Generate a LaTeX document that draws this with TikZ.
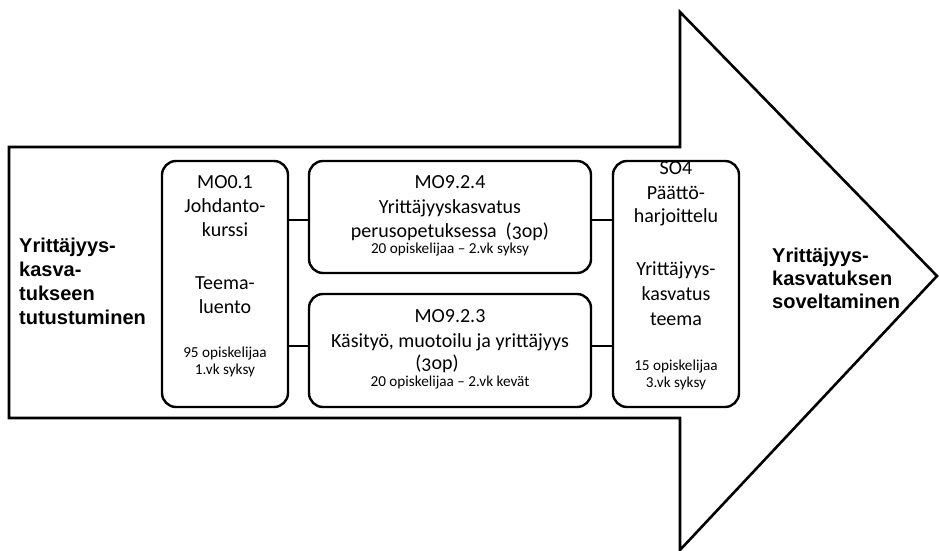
\documentclass[tikz,border=0pt]{standalone}
\usepackage{fontspec}
\setmainfont{Carlito}
\newfontfamily\headfont{Liberation Sans}
\begin{document}
\begin{tikzpicture}[x=1pt,y=-1pt,
  bigarrow/.style={draw=black,line width=2.6pt,line join=miter},
  course/.style={draw=black,line width=2.4pt,rounded corners=14pt,fill=none,inner sep=0pt},
  link/.style={draw=black,line width=2pt},
  main/.style={font=\fontsize{20}{24}\selectfont,anchor=base,inner sep=0pt},
  small/.style={font=\fontsize{15.2}{17}\selectfont,anchor=base,inner sep=0pt},
  head/.style={font=\headfont\bfseries\fontsize{20}{24}\selectfont,anchor=base west,inner sep=0pt}]
\useasboundingbox (0,0) rectangle (940,551);
\fill[white] (0,0) rectangle (940,551);

% the large process arrow
\draw[bigarrow] (9,147) -- (680,147) -- (680,12) -- (937,276) -- (680,550) -- (680,418) -- (9,418) -- cycle;

% text of the course boxes
\node[main] (a1) at (225,188) {MO0.1};
\node[main] (a2) at (225,212) {Johdanto-};
\node[main] (a3) at (225,236) {kurssi};
\node[main] (a4) at (225,289) {Teema-};
\node[main] (a5) at (225,313) {luento};
\node[small] (a6) at (225,357) {95 opiskelijaa};
\node[small] (a7) at (225,374) {1.vk syksy};

\node[main] (b1) at (450,188) {MO9.2.4};
\node[main] (b2) at (450,213) {Yrittäjyyskasvatus};
\node[main] (b3) at (450,237) {perusopetuksessa\ \ (\addfontfeature{Numbers=OldStyle}3op)};
\node[small] (b4) at (450,253) {20 opiskelijaa – 2.vk syksy};

\node[main] (c1) at (450,322) {MO9.2.3};
\node[main] (c2) at (450,347) {Käsityö, muotoilu ja yrittäjyys};
\node[main] (c3) at (437,369) {(\addfontfeature{Numbers=OldStyle}3op)};
\node[small] (c4) at (450,386) {20 opiskelijaa – 2.vk kevät};

\node[main] (d1) at (676,174) {SO4};
\node[main] (d2) at (676,199) {Päättö-};
\node[main] (d3) at (676,222) {harjoittelu};
\node[main] (d4) at (676,275) {Yrittäjyys-};
\node[main] (d5) at (676,300) {kasvatus};
\node[main] (d6) at (676,325) {teema};
\node[small] (d7) at (676,370) {15 opiskelijaa};
\node[small] (d8) at (676,387) {3.vk syksy};

% course boxes
\node[course,minimum width=126pt,minimum height=246pt] (m01) at (225,284) {};
\node[course,minimum width=282pt,minimum height=112pt] (m924) at (450,217) {};
\node[course,minimum width=282pt,minimum height=113pt] (m923) at (450,350.5) {};
\node[course,minimum width=126pt,minimum height=246pt] (so4) at (676,284) {};

% connectors between the boxes
\draw[link] (m01.east |- 0,220) -- (m924.west |- 0,220);
\draw[link] (m01.east |- 0,346) -- (m923.west |- 0,346);
\draw[link] (m924.east |- 0,220) -- (so4.west |- 0,220);
\draw[link] (m923.east |- 0,346) -- (so4.west |- 0,346);

% side labels
\node[head] (l1) at (19,252) {Yrittäjyys-};
\node[head] (l2) at (19,276) {kasva-};
\node[head] (l3) at (19,300) {tukseen};
\node[head] (l4) at (19,324) {tutustuminen};

\node[head] (r1) at (772,262) {Yrittäjyys-};
\node[head] (r2) at (772,285) {kasvatuksen};
\node[head] (r3) at (772,308) {soveltaminen};
\end{tikzpicture}
\end{document}
